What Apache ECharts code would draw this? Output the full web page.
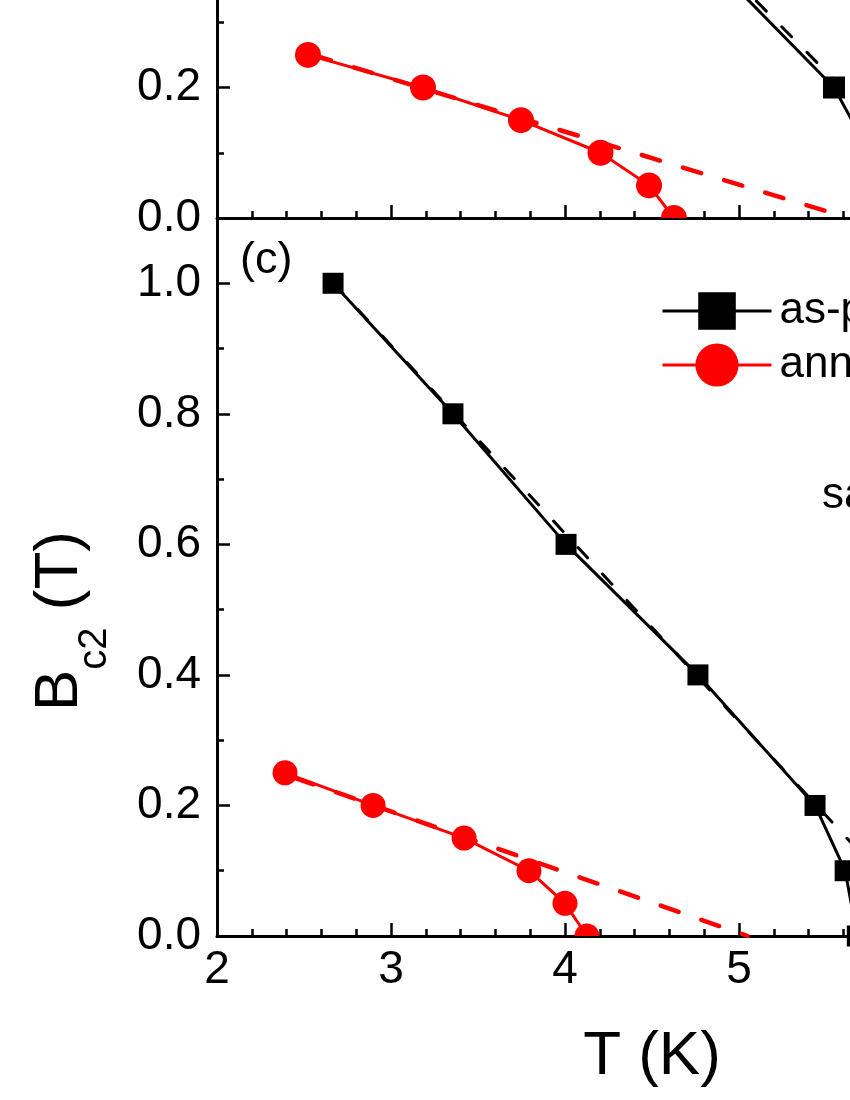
<!DOCTYPE html>
<html>
<head>
  <meta charset="utf-8">
  <title>Bc2 vs T</title>
  <script src="https://cdn.jsdelivr.net/npm/echarts@6/dist/echarts.min.js"></script>
  <style>
    * { margin: 0; padding: 0; }
    html, body, #chart { width: 850px; height: 1100px; overflow: hidden; background: #fff; }
  </style>
</head>
<body>
  <div id="chart"></div>
  <script>
    var FONT = 'Liberation Sans, Arial, sans-serif';

    // panel (b), only its lower part is in the picture
    var bAsPrepared = [[4.81, 0.4], [5.546, 0.2], [5.75, 0.1]];
    var bAnnealed = [[2.523, 0.25], [3.184, 0.2], [3.747, 0.15], [4.204, 0.1], [4.483, 0.05], [4.626, 0.0]];
    var bAsFit = [[2.63, 1.0], [6.33, 0.0]];
    var bAnnFit = [[2.55, 0.250], [5.5, 0.0106]];

    // panel (c)
    var cAsPrepared = [[2.667, 1.0], [3.356, 0.8], [4.006, 0.6], [4.764, 0.4], [5.437, 0.2], [5.61, 0.1], [5.68, 0.0]];
    var cAnnealed = [[2.391, 0.25], [2.897, 0.2], [3.42, 0.15], [3.793, 0.1], [4.0, 0.05], [4.126, 0.0]];
    var cAsFit = [[2.67, 1.0], [6.14, 0.0]];
    var cAnnFit = [[2.45, 0.242], [5.05, 0.0]];

    var seriesNames = ['as-prepared', 'annealed'];

    // the point sitting on the axis is only drawn above it
    var halfCircle = 'path://M0,50 A50,50 0 0 1 100,50 Z';
    function cutLast(points, size) {
      return points.map(function (p, i) {
        if (i < points.length - 1 || p[1] !== 0) return p;
        return { value: p, symbol: halfCircle, symbolSize: [size, size / 2], symbolOffset: [0, '-50%'] };
      });
    }

    function xAxisOf(gridIndex, showLabels) {
      return {
        type: 'value', gridIndex: gridIndex, min: 2, max: 7, interval: 1,
        axisLine: { lineStyle: { color: '#000', width: 3 } },
        axisTick: { inside: true, length: 13, lineStyle: { color: '#000', width: 2.5 } },
        minorTick: { show: true, splitNumber: 5, length: 7, lineStyle: { color: '#000', width: 2.5 } },
        splitLine: { show: false },
        axisLabel: { show: showLabels, color: '#000', fontSize: 46, fontFamily: FONT, margin: 11 }
      };
    }
    function yAxisOf(gridIndex, max) {
      return {
        type: 'value', gridIndex: gridIndex, min: 0, max: max, interval: 0.2,
        axisLine: { show: true, lineStyle: { color: '#000', width: 3 } },
        axisTick: { inside: true, length: 13, lineStyle: { color: '#000', width: 2.5 } },
        minorTick: { show: true, splitNumber: 2, length: 7, lineStyle: { color: '#000', width: 2.5 } },
        splitLine: { show: false },
        axisLabel: {
          color: '#000', fontSize: 46, fontFamily: FONT, margin: 16, showMaxLabel: false,
          formatter: function (v) { return v.toFixed(1); }
        }
      };
    }

    function dataLine(name, xi, data, color, symbol, size) {
      return {
        name: name, type: 'line', xAxisIndex: xi, yAxisIndex: xi, data: data,
        symbol: symbol, symbolSize: size, color: color,
        lineStyle: { color: color, width: 3 }, itemStyle: { color: color },
        z: 3
      };
    }
    function fitLine(xi, data, color, width, dash) {
      return {
        type: 'line', xAxisIndex: xi, yAxisIndex: xi, data: data, symbol: 'none',
        lineStyle: { color: color, width: width, type: dash, cap: 'round' }, z: 2
      };
    }

    var yc = yAxisOf(1, 1.1);
    yc.name = '{b|B}{s|c2}{b| (T)}';
    yc.nameLocation = 'middle';
    yc.nameRotate = 90;
    yc.nameGap = 102;
    yc.nameTextStyle = {
      color: '#000', padding: [0, 88, 0, 0],
      rich: {
        b: { fontSize: 62, fontFamily: FONT, color: '#000' },
        s: { fontSize: 40, fontFamily: FONT, color: '#000', verticalAlign: 'bottom', padding: [70, 0, 0, 0] }
      }
    };
    var xc = xAxisOf(1, true);
    xc.name = 'T (K)';
    xc.nameLocation = 'middle';
    xc.nameGap = 90;
    xc.nameTextStyle = { color: '#000', fontSize: 62, fontFamily: FONT };

    var legendText = { color: '#000', fontSize: 44, fontFamily: FONT, padding: [0, 0, 0, 3] };

    var option = {
      animation: false,
      backgroundColor: '#fff',
      grid: [
        { left: 217, top: -43, width: 870, height: 261, outerBoundsMode: 'none' },
        { left: 217, top: 218, width: 870, height: 718, outerBoundsMode: 'none' }
      ],
      xAxis: [xAxisOf(0, false), xc],
      yAxis: [yAxisOf(0, 0.4), yc],
      legend: [
        { data: [seriesNames[0]], left: 656, top: 284, itemWidth: 109, itemHeight: 47, lineStyle: { width: 3 }, textStyle: legendText },
        { data: [seriesNames[1]], left: 656, top: 338, itemWidth: 109, itemHeight: 54, lineStyle: { width: 3 }, textStyle: legendText }
      ],
      graphic: [
        { type: 'text', left: 240, top: 238, style: { text: '(c)', fontSize: 45, fontFamily: FONT, fill: '#000' } },
        { type: 'text', left: 822, top: 474, style: { text: 'sample', fontSize: 44, fontFamily: FONT, fill: '#000' } }
      ],
      series: [
        fitLine(0, bAsFit, '#000', 3, [14, 22]),
        fitLine(0, bAnnFit, '#ff0000', 4.5, [19, 24]),
        dataLine(seriesNames[0], 0, bAsPrepared, '#000', 'rect', 22),
        dataLine(seriesNames[1], 0, cutLast(bAnnealed, 26), '#ff0000', 'circle', 26),
        fitLine(1, cAsFit, '#000', 3, [14, 22]),
        fitLine(1, cAnnFit, '#ff0000', 4.5, [19, 24]),
        dataLine(seriesNames[0], 1, cAsPrepared, '#000', 'rect', 21),
        dataLine(seriesNames[1], 1, cutLast(cAnnealed, 25), '#ff0000', 'circle', 25)
      ]
    };

    var chart = echarts.init(document.getElementById('chart'));
    chart.setOption(option);
  </script>
</body>
</html>
